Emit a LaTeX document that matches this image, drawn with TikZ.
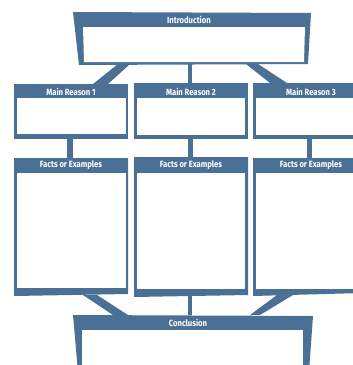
\documentclass[tikz,border=0pt]{standalone}
\usepackage{fontspec}
\newfontfamily\hdrfont[FakeStretch=0.85]{Fira Sans}
\definecolor{steel}{RGB}{74,113,149}
\tikzset{
  frame/.style={fill=steel},
  pane/.style={fill=white},
  link/.style={fill=steel},
  hdr/.style={text=white, font=\hdrfont\bfseries\fontsize{9}{10}\selectfont, inner sep=0pt, anchor=center}
}
\begin{document}
\begin{tikzpicture}[x=1pt,y=-1pt]
\useasboundingbox (0,0) rectangle (353,365);
\begin{scope}
\clip (0,0) rectangle (353,365);
% Introduction
\path[frame] (73,12) -- (311,13) -- (308,64) -- (79,65) -- cycle;
\path[pane] (83,27) -- (305,27) -- (304,62) -- (84,62) -- cycle;
\node[hdr] (intro) at (189,20) {Introduction};
\coordinate (introL) at (124,64);
\coordinate (introM) at (190,64);
\coordinate (introR) at (252,64);
% Main reasons
\path[frame] (14,84) rectangle (128,139);
\path[pane] (17,98) rectangle (126,134);
\node[hdr] (mr1) at (71,91.5) {Main Reason 1};
\path[frame] (134,83) rectangle (248,139);
\path[pane] (137,98) rectangle (245,135);
\node[hdr] (mr2) at (191,91.5) {Main Reason 2};
\path[frame] (253,83) rectangle (362,139);
\path[pane] (256,98) rectangle (362,135);
\node[hdr] (mr3) at (311,91.5) {Main Reason 3};
\coordinate (mr1T) at (100.5,84);
\coordinate (mr2T) at (190,83);
\coordinate (mr3T) at (278.5,83);
\coordinate (mr1B) at (70,139);
\coordinate (mr2B) at (190.5,139);
\coordinate (mr3B) at (309.5,139);
% Facts or examples
\path[frame] (14,158) -- (128,158) -- (128,294) -- (14,296) -- cycle;
\path[pane] (17,173) rectangle (126,288);
\node[hdr] (fe1) at (71,165.5) {Facts or Examples};
\path[frame] (134,157) -- (248,157) -- (248,295) -- (134,297) -- cycle;
\path[pane] (137,173) rectangle (245,289);
\node[hdr] (fe2) at (191,165.5) {Facts or Examples};
\path[frame] (253,158) -- (362,158) -- (362,293) -- (253,296) -- cycle;
\path[pane] (256,173) rectangle (362,289);
\node[hdr] (fe3) at (311,165.5) {Facts or Examples};
\coordinate (fe1T) at (70,158);
\coordinate (fe2T) at (190.5,157);
\coordinate (fe3T) at (309.5,158);
\coordinate (fe1B) at (90,295);
\coordinate (fe2B) at (190,296);
\coordinate (fe3B) at (285,295);
% Conclusion
\path[frame] (73,315) -- (313,316) -- (309,372) -- (78,372) -- cycle;
\path[pane] (82,330) -- (303,330) -- (303,372) -- (82,372) -- cycle;
\node[hdr] (concl) at (188,323) {Conclusion};
\coordinate (conL) at (120.5,315);
\coordinate (conM) at (190,315);
\coordinate (conR) at (255,315);
% connectors
\path[link] ([xshift=-6]introL) -- ([xshift=6]introL) -- ([xshift=7.5]mr1T) -- ([xshift=-7.5]mr1T) -- cycle;
\path[link] ([xshift=-2]introM) -- ([xshift=2]introM) -- ([xshift=2]mr2T) -- ([xshift=-2]mr2T) -- cycle;
\path[link] ([xshift=-6]introR) -- ([xshift=6]introR) -- ([xshift=8.5]mr3T) -- ([xshift=-8.5]mr3T) -- cycle;
\path[link] ([xshift=-3]mr1B) -- ([xshift=3]mr1B) -- ([xshift=3]fe1T) -- ([xshift=-3]fe1T) -- cycle;
\path[link] ([xshift=-2.5]mr2B) -- ([xshift=2.5]mr2B) -- ([xshift=2.5]fe2T) -- ([xshift=-2.5]fe2T) -- cycle;
\path[link] ([xshift=-2.5]mr3B) -- ([xshift=2.5]mr3B) -- ([xshift=2.5]fe3T) -- ([xshift=-2.5]fe3T) -- cycle;
\path[link] ([xshift=-7]fe1B) -- ([xshift=7]fe1B) -- ([xshift=7.5]conL) -- ([xshift=-7.5]conL) -- cycle;
\path[link] ([xshift=-2]fe2B) -- ([xshift=2]fe2B) -- ([xshift=2]conM) -- ([xshift=-2]conM) -- cycle;
\path[link] ([xshift=-8]fe3B) -- ([xshift=8]fe3B) -- ([xshift=5]conR) -- ([xshift=-5]conR) -- cycle;
\end{scope}
\end{tikzpicture}
\end{document}
